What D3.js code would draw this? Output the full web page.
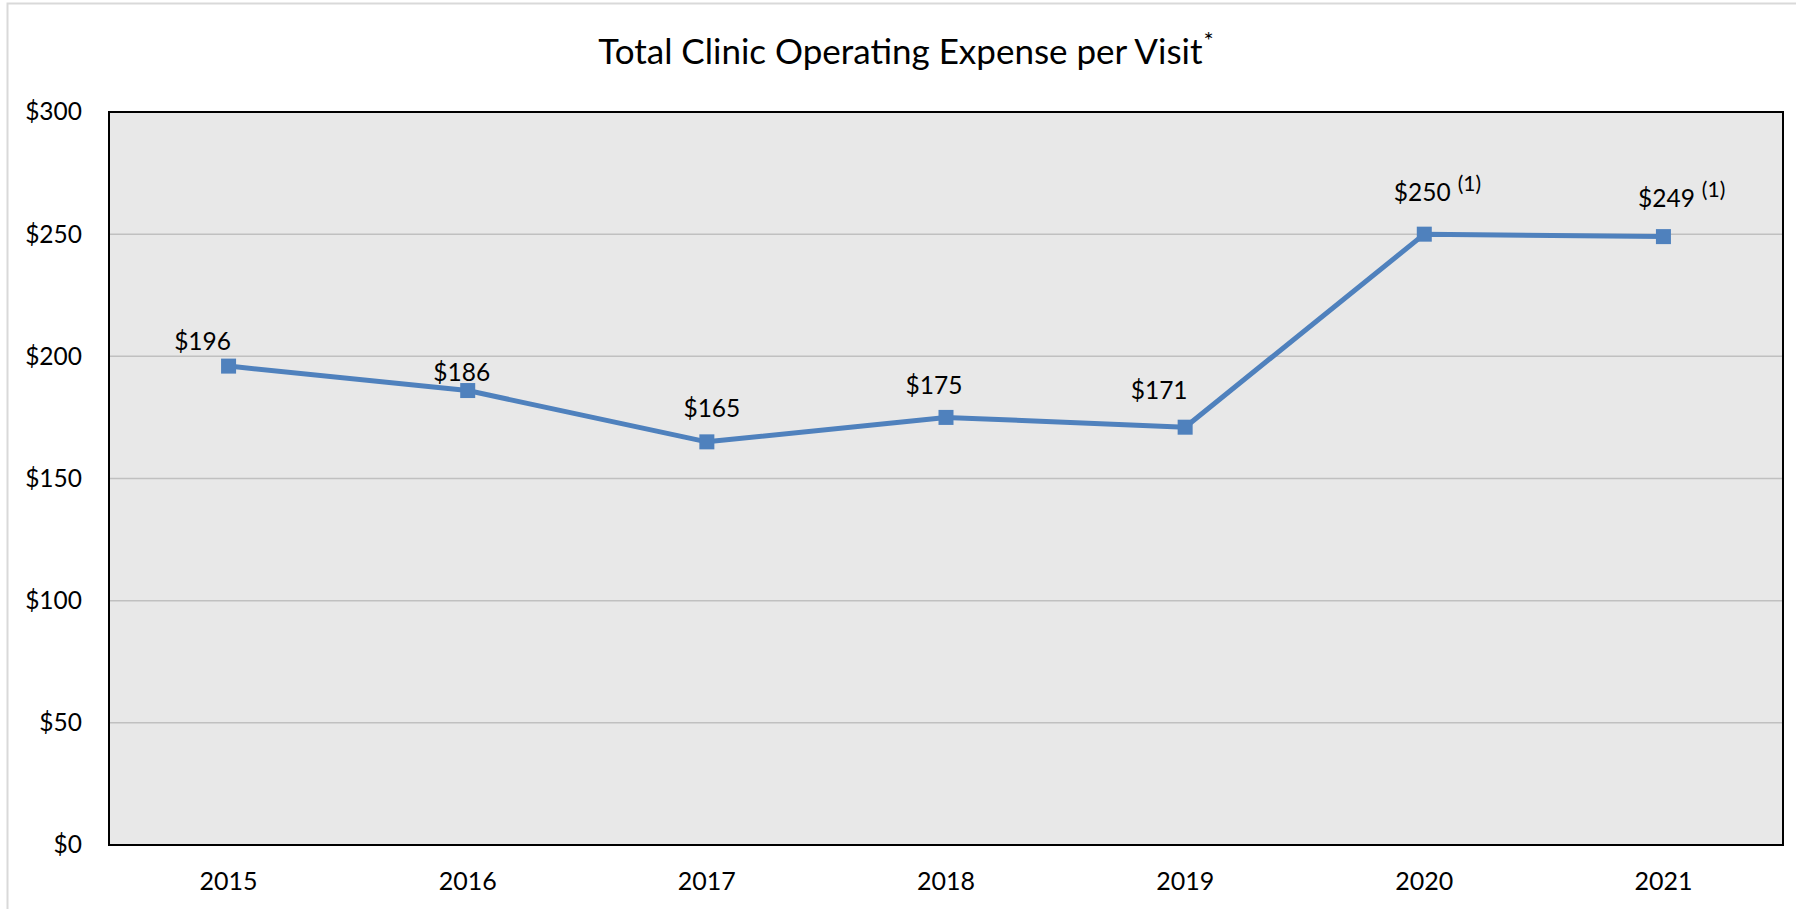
<!DOCTYPE html>
<html>
<head>
<meta charset="utf-8">
<script src="https://cdn.jsdelivr.net/npm/d3@7"></script>
<style>
  html, body { margin: 0; padding: 0; background: #fff; }
  svg { display: block; }
  text { font-family: Lato, "Open Sans", sans-serif; fill: #000; }
</style>
</head>
<body>
<svg id="chart" width="1796" height="909"></svg>
<script>
const years = ["2015", "2016", "2017", "2018", "2019", "2020", "2021"];
const expense = [196, 186, 165, 175, 171, 250, 249];
const labelNotes = ["", "", "", "", "", "(1)", "(1)"];
const yTicks = [0, 50, 100, 150, 200, 250, 300];
const titleText = "Total Clinic Operating Expense per Visit";
const titleNote = "*";

// label offsets (layout only): centre of label relative to marker
const labelDx = [-26, -6, 5, -12, -26, -2, 3];
const labelDy = [-25, -19, -34, -32, -37, -42, -39];

const W = 1796, H = 909;
const m = { left: 109, right: 1783, top: 112, bottom: 845 };
const svg = d3.select("#chart");

// outer chart frame
svg.append("rect").attr("x", 7.5).attr("y", 3.5).attr("width", W).attr("height", H)
  .attr("fill", "#fff").attr("stroke", "#d9d9d9").attr("stroke-width", 2);

const x = d3.scaleBand().domain(years).range([m.left, m.right]).padding(0);
const y = d3.scaleLinear().domain([0, 300]).range([m.bottom, m.top]);
const cx = d => x(d) + x.bandwidth() / 2;

// plot background
svg.append("rect").attr("x", m.left).attr("y", m.top)
  .attr("width", m.right - m.left).attr("height", m.bottom - m.top)
  .attr("fill", "#e8e8e8");

// gridlines
svg.append("g").selectAll("line").data(yTicks.filter(t => t > 0 && t < 300)).join("line")
  .attr("x1", m.left).attr("x2", m.right)
  .attr("y1", d => y(d)).attr("y2", d => y(d))
  .attr("stroke", "#c0c0c0").attr("stroke-width", 1.5);

// plot border
svg.append("rect").attr("x", m.left).attr("y", m.top)
  .attr("width", m.right - m.left).attr("height", m.bottom - m.top)
  .attr("fill", "none").attr("stroke", "#000").attr("stroke-width", 2);

// y axis
const yAxis = d3.axisLeft(y).tickValues(yTicks).tickSize(0).tickPadding(27)
  .tickFormat(d => "$" + d);
const gy = svg.append("g").attr("transform", `translate(${m.left},0)`).call(yAxis);
gy.select(".domain").remove();
gy.selectAll("text").style("font-size", "24.5px").style("font-family", "Lato, sans-serif").attr("fill", "#000");

// x axis
const xAxis = d3.axisBottom(x).tickSize(0).tickPadding(27);
const gx = svg.append("g").attr("transform", `translate(0,${m.bottom})`).call(xAxis);
gx.select(".domain").remove();
gx.selectAll("text").style("font-size", "25px").style("font-family", "Lato, sans-serif").attr("fill", "#000");

// line
const pts = years.map((yr, i) => ({ yr, v: expense[i], note: labelNotes[i], dx: labelDx[i], dy: labelDy[i] }));
const line = d3.line().x(d => cx(d.yr)).y(d => y(d.v));
svg.append("path").datum(pts).attr("d", line)
  .attr("fill", "none").attr("stroke", "#4f81bd").attr("stroke-width", 5)
  .attr("stroke-linejoin", "round");

// markers
const ms = 15;
svg.append("g").selectAll("rect").data(pts).join("rect")
  .attr("x", d => cx(d.yr) - ms / 2).attr("y", d => y(d.v) - ms / 2)
  .attr("width", ms).attr("height", ms).attr("fill", "#4f81bd");

// data labels
const lbl = svg.append("g").selectAll("text").data(pts).join("text")
  .attr("x", d => cx(d.yr) + d.dx)
  .attr("y", d => y(d.v) + d.dy + 9)
  .attr("text-anchor", "middle")
  .style("font-size", "24.5px");
lbl.append("tspan").text(d => "$" + d.v);
lbl.each(function(d) {
  if (d.note) {
    const t = d3.select(this);
    t.attr("text-anchor", "start");
    const tmp = t.select("tspan").node().getComputedTextLength();
    t.attr("x", cx(d.yr) + d.dx - tmp / 2);
    t.append("tspan").attr("dx", 7).attr("dy", -10).style("font-size", "21px").text(d.note);
  }
});

// title
const title = svg.append("text").attr("x", 906).attr("y", 64)
  .attr("text-anchor", "middle").style("font-size", "35px");
title.append("tspan").text(titleText);
title.append("tspan").attr("dx", 1).attr("dy", -15).style("font-size", "24px").text(titleNote);
</script>
</body>
</html>
